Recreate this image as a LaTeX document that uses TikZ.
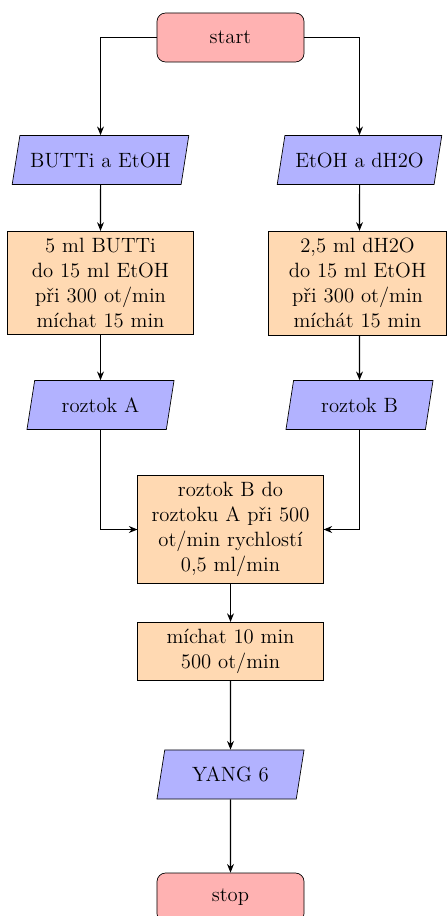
\documentclass[tikz,border=0pt]{standalone}
\usetikzlibrary{shapes.geometric,arrows.meta}

\tikzset{
  base/.style={draw=black, font=\fontsize{12}{14.5}\selectfont, inner sep=4pt},
  terminal/.style={base, rectangle, rounded corners=5pt, minimum width=3cm, minimum height=1cm, fill=red!30},
  io/.style={base, trapezium, trapezium left angle=75, trapezium right angle=105, trapezium stretches body,
             inner xsep=6pt, minimum width=3cm, minimum height=1cm, fill=blue!30},
  process/.style={base, rectangle, align=center, text width=3.5cm, fill=orange!30},
  flow/.style={semithick, -{Stealth[length=5pt,width=4pt]}}
}

\begin{document}
\begin{tikzpicture}[x=0.020408cm, y=-0.020408cm]
  \useasboundingbox (0,0) rectangle (447,916);

  \node[terminal] (start) at (230.5,37.5) {start};

  \node[io] (inA) at (100.5,160) {BUTTi a EtOH};
  \node[io] (inB) at (359.5,160) {EtOH a dH2O};

  \node[process] (mixA) at (100.5,283) {5 ml BUTTi\\do 15 ml EtOH\\při 300 ot/min\\míchat 15 min};
  \node[process, text width=3.35cm] (mixB) at (357.5,283) {2,5 ml dH2O\\do 15 ml EtOH\\při 300 ot/min\\míchát 15 min};

  \node[io] (solA) at (100.5,405) {roztok A};
  \node[io] (solB) at (359.5,405) {roztok B};

  \node[process] (merge) at (230.5,529.5) {roztok B do roztoku A při 500 ot/min rychlostí 0,5 ml/min};
  \node[process] (stir) at (230.5,651.5) {míchat 10 min\\500 ot/min};

  \node[io] (out) at (230.5,774.5) {YANG 6};

  \node[terminal] (stop) at (230.5,897.5) {stop};

  \draw[flow] (start.west) -| (inA.north);
  \draw[flow] (start.east) -| (inB.north);
  \draw[flow] (inA) -- (mixA);
  \draw[flow] (inB) -- (mixB.north -| inB);
  \draw[flow] (mixA) -- (solA.north -| mixA);
  \draw[flow] (mixB.south -| solB) -- (solB);
  \draw[flow] (solA.south) |- (merge.west);
  \draw[flow] (solB.south) |- (merge.east);
  \draw[flow] (merge) -- (stir);
  \draw[flow] (stir) -- (out);
  \draw[flow] (out) -- (stop);
\end{tikzpicture}
\end{document}
